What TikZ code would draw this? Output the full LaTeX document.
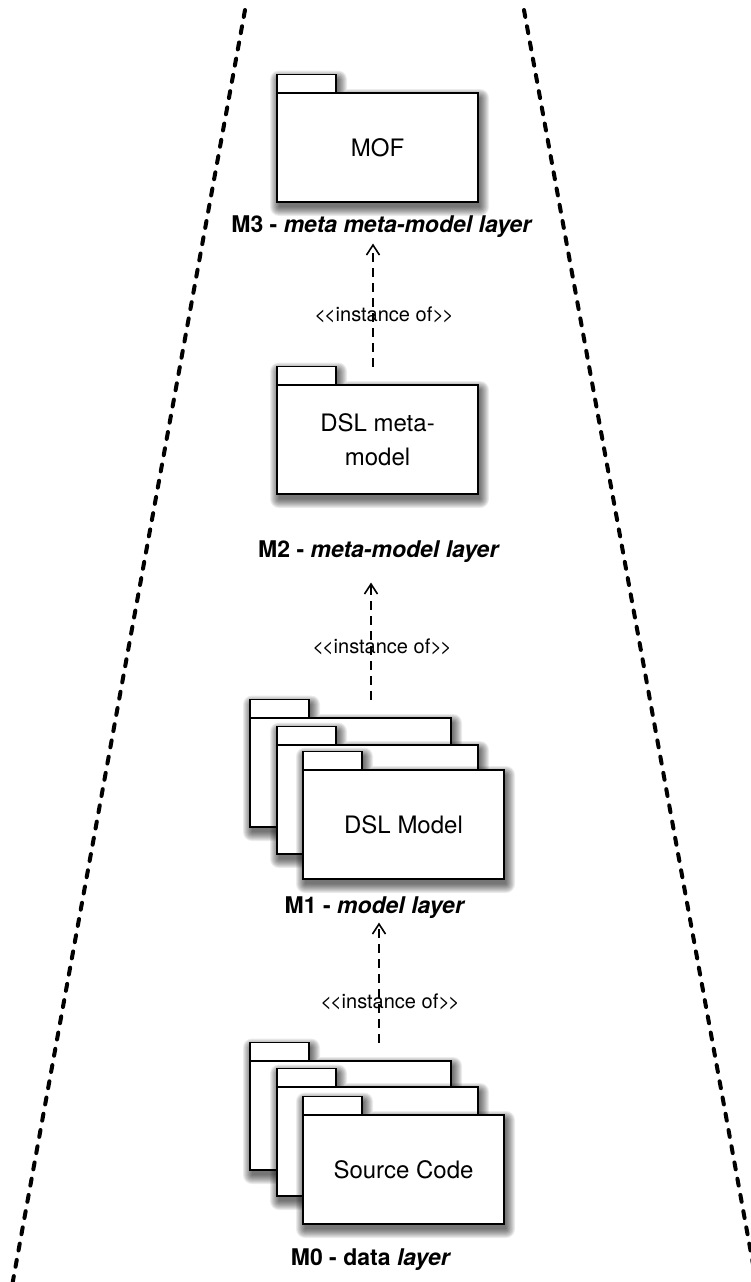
\documentclass[tikz,border=0pt]{standalone}
\usepackage{fontspec}
\setmainfont{TeX Gyre Heros}
\usetikzlibrary{arrows.meta}

\tikzset{
  pkgbody/.style={draw, line width=1.8pt, fill=white, minimum width=201pt,
      minimum height=109pt, inner sep=0pt, outer sep=0pt, align=center,
      font=\fontsize{24}{34}\selectfont, anchor=north west},
  pkgtab/.style={draw, line width=1.8pt, fill=white, minimum width=59pt,
      minimum height=18.5pt, inner sep=0pt, outer sep=0pt, anchor=south west},
  layerlabel/.style={font=\fontsize{23}{27}\selectfont\bfseries, anchor=base},
  stereo/.style={font=\fontsize{20}{24}\selectfont},
  instof/.style={line width=1.7pt, dash pattern=on 9pt off 6pt,
      -{Straight Barb[length=10pt,width=13pt,line width=1.6pt]}},
  boundary/.style={line width=4pt, line cap=round,
      dash pattern=on 7pt off 9.5pt},
  shadowlayer/.style={fill=black, fill opacity=0.075}
}

% soft drop shadow under a package outline (tab and body), built from
% stacked translucent layers that grow outwards
\newcommand{\pkgsoftshadow}[2]{%
  \foreach \r in {0,...,9}{%
    \fill[shadowlayer, rounded corners=\r pt]
      ({#1+2-\r},{#2-18.5+5-\r}) rectangle ({#1+59+2+\r},{#2+5+\r})
      ({#1+2-\r},{#2+5-\r}) rectangle ({#1+201+2+\r},{#2+109+5+\r});
  }%
}

% UML package: name, x and y of the body's top-left corner, caption
\newcommand{\umlpkg}[4]{%
  \pkgsoftshadow{#2}{#3}
  \node[pkgtab] (#1tab) at (#2,#3) {};
  \node[pkgbody] (#1) at (#2,#3) {#4};
}
% stereotype text; the kerns keep the angle brackets from becoming guillemets
\newcommand{\stereotype}[1]{<\kern-2pt<#1>\kern-2pt>}

\begin{document}
\begin{tikzpicture}[x=1pt,y=-1pt]
  \useasboundingbox (0,0) rectangle (750,1282);

  % layer boundaries
  \draw[boundary] (245,10) -- (10,1297);
  \draw[boundary] (524,10) -- (759,1297);

  % M3
  \umlpkg{mof}{277}{93}{MOF}
  \node[layerlabel] (lab3) at (382,232) {M3 - \textit{meta meta-model layer}};

  % M2
  \umlpkg{dslmm}{277}{385}{DSL meta-\\model}
  \node[layerlabel] (lab2) at (379,557) {M2 - \textit{meta-model layer}};

  % M1
  \umlpkg{mdla}{250}{718}{}
  \umlpkg{mdlb}{277}{745}{}
  \umlpkg{mdlc}{303}{770}{DSL Model}
  \node[layerlabel] (lab1) at (375,913) {M1 - \textit{model layer}};

  % M0
  \umlpkg{srca}{250}{1061}{}
  \umlpkg{srcb}{277}{1087}{}
  \umlpkg{srcc}{303}{1115}{Source Code}
  \node[layerlabel] (lab0) at (371,1265) {M0 - data \textit{layer}};

  % instance-of dependencies
  \coordinate (c1) at (373,0);
  \coordinate (c2) at (371,0);
  \coordinate (c3) at (379,0);
  \draw[instof, shorten >=3pt] (dslmmtab.north -| c1) -- (lab3.south -| c1);
  \draw[instof, shorten >=17pt] (mdlatab.north -| c2) -- (lab2.south -| c2);
  \draw[instof, shorten >=1pt] (srcatab.north -| c3) -- (lab1.south -| c3);

  \node[stereo] (st1) at (384,315) {\stereotype{instance of}};
  \node[stereo] (st2) at (382,647) {\stereotype{instance of}};
  \node[stereo] (st3) at (390,1002) {\stereotype{instance of}};
\end{tikzpicture}
\end{document}
